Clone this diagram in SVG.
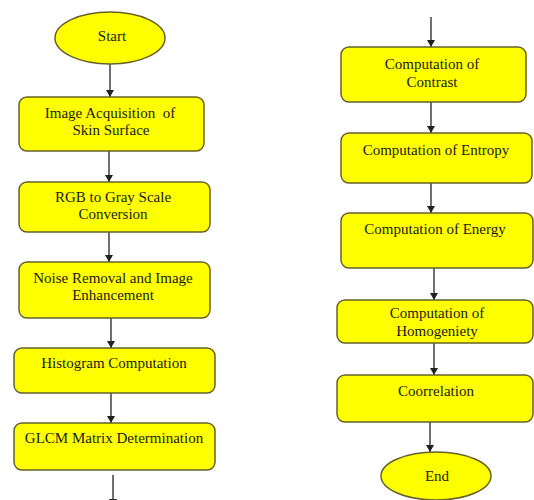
<svg xmlns="http://www.w3.org/2000/svg" width="534" height="500" viewBox="0 0 534 500">
<style>
.n{fill:#ffff00;stroke:#66622a;stroke-width:1.5}
.t{font-family:"Liberation Serif","Times New Roman",serif;font-size:15px;fill:#1a1a10;text-anchor:middle}
.c line{stroke:#222;stroke-width:1.3;marker-end:url(#ah)}
</style>
<defs>
<marker id="ah" markerUnits="userSpaceOnUse" markerWidth="8" markerHeight="9" refX="7" refY="4" orient="auto">
<path d="M0,0 L7,4 L0,8 Z" fill="#222"/>
</marker>
</defs>
<rect width="534" height="500" fill="#fff"/>
<g class="c" id="connectors">
<line x1="110" y1="64" x2="110" y2="97"/>
<line x1="109" y1="151" x2="109" y2="182"/>
<line x1="109" y1="232" x2="109" y2="262"/>
<line x1="111" y1="318" x2="111" y2="348"/>
<line x1="111" y1="393" x2="111" y2="423"/>
<line x1="113" y1="475" x2="113" y2="506"/>
<line x1="431" y1="17" x2="431" y2="47"/>
<line x1="431" y1="102" x2="431" y2="133"/>
<line x1="431" y1="183" x2="431" y2="213"/>
<line x1="434" y1="268" x2="434" y2="300"/>
<line x1="434" y1="343" x2="434" y2="375"/>
<line x1="430" y1="422" x2="430" y2="452"/>
</g>
<g id="start"><ellipse class="n" cx="110" cy="38" rx="55" ry="26"/><text class="t" x="112" y="41">Start</text></g>
<g id="acq"><rect class="n" x="19" y="97" width="185" height="54" rx="8"/><text class="t" x="110" y="118" style="white-space:pre">Image Acquisition  of</text><text class="t" x="111" y="135">Skin Surface</text></g>
<g id="gray"><rect class="n" x="19" y="182" width="191" height="50" rx="8"/><text class="t" x="113" y="202">RGB to Gray Scale</text><text class="t" x="113" y="219">Conversion</text></g>
<g id="noise"><rect class="n" x="19" y="262" width="191" height="56" rx="8"/><text class="t" x="113" y="283">Noise Removal and Image</text><text class="t" x="113" y="300">Enhancement</text></g>
<g id="hist"><rect class="n" x="14" y="348" width="201" height="45" rx="8"/><text class="t" x="114" y="368">Histogram Computation</text></g>
<g id="glcm"><rect class="n" x="14" y="423" width="201" height="47" rx="8"/><text class="t" x="114" y="443">GLCM Matrix Determination</text></g>
<g id="contrast"><rect class="n" x="341" y="47" width="185" height="55" rx="8"/><text class="t" x="432" y="69">Computation of</text><text class="t" x="432" y="87">Contrast</text></g>
<g id="entropy"><rect class="n" x="341" y="133" width="191" height="50" rx="8"/><text class="t" x="436" y="155">Computation of Entropy</text></g>
<g id="energy"><rect class="n" x="341" y="213" width="192" height="55" rx="8"/><text class="t" x="435" y="234">Computation of Energy</text></g>
<g id="homog"><rect class="n" x="337" y="300" width="196" height="43" rx="8"/><text class="t" x="437" y="318">Computation of</text><text class="t" x="437" y="336">Homogeniety</text></g>
<g id="corr"><rect class="n" x="337" y="375" width="196" height="47" rx="8"/><text class="t" x="436" y="396">Coorrelation</text></g>
<g id="end"><ellipse class="n" cx="436" cy="476" rx="55" ry="24"/><text class="t" x="437" y="481">End</text></g>
</svg>
